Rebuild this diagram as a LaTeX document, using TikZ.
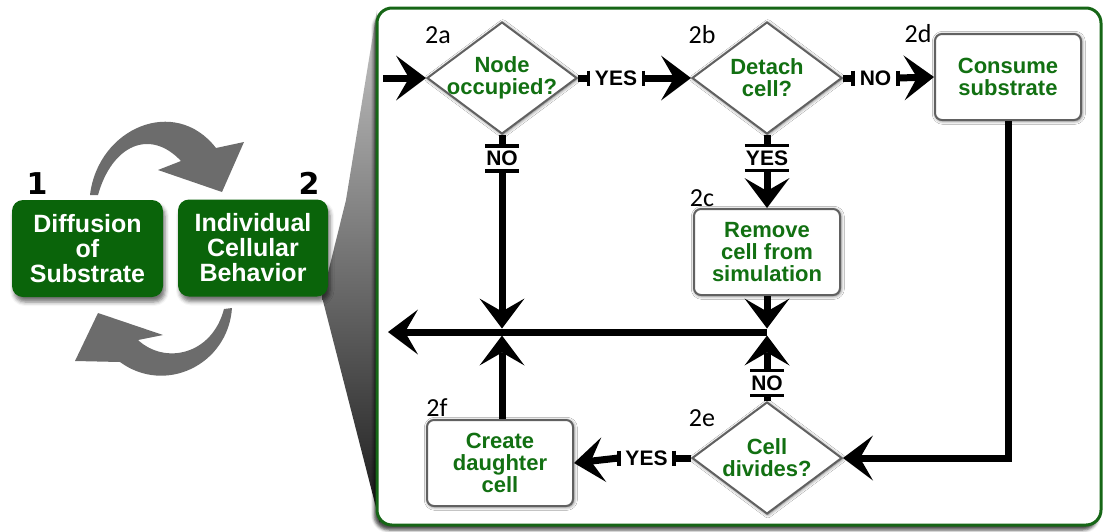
\documentclass[tikz,border=0pt]{standalone}
\usepackage{fontspec}
\setmainfont{Liberation Sans}
\newfontfamily\labfont{Carlito}
\newfontfamily\digfont{DejaVu Sans}
\usetikzlibrary{shapes.geometric,arrows.meta,shadows.blur}
\definecolor{boxgreen}{RGB}{10,100,10}
\definecolor{txtgreen}{RGB}{18,112,18}
\definecolor{framegreen}{RGB}{22,102,22}
\definecolor{arrowgrey}{RGB}{108,108,108}
\begin{document}
\begin{tikzpicture}[x=1pt,y=-1pt,
  flowtext/.style={font=\bfseries\fontsize{22}{22}\selectfont, text=txtgreen, align=center},
  glow/.style={blur shadow={shadow xshift=0.8pt, shadow yshift=-0.8pt, shadow blur radius=3.5pt, shadow opacity=65}},
  procbox/.style={flowtext, rectangle, rounded corners=7pt, draw=black!62, line width=2pt, fill=white, minimum width=146pt, minimum height=86pt, inner sep=0pt, glow},
  decision/.style={flowtext, diamond, draw=black!62, line width=2pt, fill=white, minimum width=150pt, minimum height=112pt, inner sep=-12pt, glow},
  bigbox/.style={rectangle, rounded corners=11pt, fill=boxgreen, text=white, font=\bfseries\fontsize{25}{25}\selectfont, align=center, minimum height=97pt, inner sep=0pt, blur shadow={shadow xshift=2pt, shadow yshift=-5pt, shadow opacity=55, shadow blur radius=4pt}},
  steplabel/.style={font=\labfont\fontsize{26}{26}\selectfont, inner sep=0pt},
  bignum/.style={font=\digfont\bfseries\fontsize{30}{30}\selectfont, inner sep=0pt},
  yesno/.style={font=\bfseries\fontsize{21}{21}\selectfont, inner xsep=6.5pt, inner ysep=0pt},
  vyesno/.style={font=\bfseries\fontsize{21}{21}\selectfont, inner xsep=0pt, inner ysep=5pt},
  flow/.style={line width=7pt, draw=black, draw opacity=1},
  arrowflow/.style={line width=7pt, draw=black, draw opacity=1, fill opacity=1, -{Stealth[length=30pt,width=45pt,inset=13pt,line width=0pt,fill=black]}},
  bar/.style={line width=3.5pt},
]
\useasboundingbox (0,0) rectangle (1104,531);

% wedge connecting box 2 to the frame
\shade[top color=black!22, bottom color=black!90] (377,10) -- (346,200) -- (322,297) -- (380,523) -- cycle;

% frame
\draw[framegreen, line width=3pt, fill=white, rounded corners=15pt,
  blur shadow={shadow xshift=-3pt, shadow yshift=-5pt, shadow opacity=70, shadow blur radius=3pt}]
  (377,8) rectangle (1101,525);

% left part
\node[bigbox, minimum width=151pt] (diff) at (87.5,248.5) {Diffusion\\of\\Substrate};
\node[bigbox, minimum width=150pt] (icb) at (253,248) {Individual\\Cellular\\Behavior};
\node[bignum] (one) at (37,184) {1};
\node[bignum] (two) at (309,183) {2};

% grey cycle arrows
\fill[arrowgrey] (90,195) .. controls (98,128) and (175,95) .. (216,148) -- (244,142) -- (222,192) -- (158,170) -- (181,161) .. controls (150,128) and (112,145) .. (98,195) -- cycle;
\fill[arrowgrey] (232,308) .. controls (228,365) and (165,395) .. (120,362) -- (75,361) -- (98,313) -- (163,335) -- (138,340) .. controls (165,365) and (212,355) .. (224,309) -- cycle;

% flowchart nodes
\node[decision] (d2a) at (502,78) {Node\\occupied?};
\node[decision] (d2b) at (767,78) {Detach\\cell?};
\node[procbox] (p2d) at (1008,77) {Consume\\substrate};
\node[procbox] (p2c) at (767,252) {Remove\\cell from\\simulation};
\node[decision] (d2e) at (767,458) {Cell\\divides?};
\node[procbox] (p2f) at (500,463) {Create\\daughter\\cell};

\node[steplabel] (l2a) at (438,35) {2a};
\node[steplabel] (l2b) at (702,35) {2b};
\node[steplabel] (l2d) at (918,34) {2d};
\node[steplabel] (l2c) at (702,198) {2c};
\node[steplabel] (l2e) at (702,418) {2e};
\node[steplabel] (l2f) at (437,408) {2f};

\coordinate (entry) at (383,78);
\coordinate (J1) at (502,332);
\coordinate (J2) at (767,332);
\coordinate (exit) at (388,332);

\node[yesno] (y1) at (616,78) {YES};
\node[yesno] (n2) at (875.5,78) {NO};
\node[vyesno] (n1) at (502,158.5) {NO};
\node[vyesno] (y2) at (767,158) {YES};
\node[vyesno] (n3) at (767,383) {NO};
\node[yesno] (y3) at (646.5,458) {YES};

% connectors
\draw[arrowflow] (entry) -- (d2a.west);

\draw[flow] (d2a.east) -- (y1.west);
\draw[bar] ([yshift=7.5pt]y1.west) -- ([yshift=-7.5pt]y1.west);
\draw[bar] ([yshift=7.5pt]y1.east) -- ([yshift=-7.5pt]y1.east);
\draw[arrowflow] (y1.east) -- (d2b.west);

\draw[flow] (d2b.east) -- (n2.west);
\draw[bar] ([yshift=7.5pt]n2.west) -- ([yshift=-7.5pt]n2.west);
\draw[bar] ([yshift=7.5pt]n2.east) -- ([yshift=-7.5pt]n2.east);
\draw[arrowflow] (n2.east) -- (p2d.west);

\draw[flow] (d2a.south) -- (n1.north);
\draw[bar] ([xshift=-1pt]n1.north west) -- ([xshift=1pt]n1.north east);
\draw[bar] ([xshift=-1pt]n1.south west) -- ([xshift=1pt]n1.south east);
\draw[arrowflow, shorten >=3.5pt] (n1.south) -- (J1);

\draw[flow] (d2b.south) -- (y2.north);
\draw[bar] ([xshift=-1pt]y2.north west) -- ([xshift=1pt]y2.north east);
\draw[bar] ([xshift=-1pt]y2.south west) -- ([xshift=1pt]y2.south east);
\draw[arrowflow] (y2.south) -- (p2c.north);

\draw[arrowflow, shorten >=3.5pt] (p2c.south) -- (J2);

\draw[flow] (d2e.north) -- (n3.south);
\draw[bar] ([xshift=-1pt]n3.north west) -- ([xshift=1pt]n3.north east);
\draw[bar] ([xshift=-1pt]n3.south west) -- ([xshift=1pt]n3.south east);
\draw[arrowflow, shorten >=3.5pt] (n3.north) -- (J2);

\draw[flow] (d2e.west) -- (y3.east);
\draw[bar] ([yshift=7.5pt]y3.west) -- ([yshift=-7.5pt]y3.west);
\draw[bar] ([yshift=7.5pt]y3.east) -- ([yshift=-7.5pt]y3.east);
\draw[arrowflow] (y3.west) -- (p2f.east);

\draw[arrowflow, shorten >=3.5pt] (p2f.north -| J1) -- (J1);
\draw[arrowflow] (J2) -- (exit);
\draw[arrowflow] (p2d.south) |- (d2e.east);
\end{tikzpicture}
\end{document}
